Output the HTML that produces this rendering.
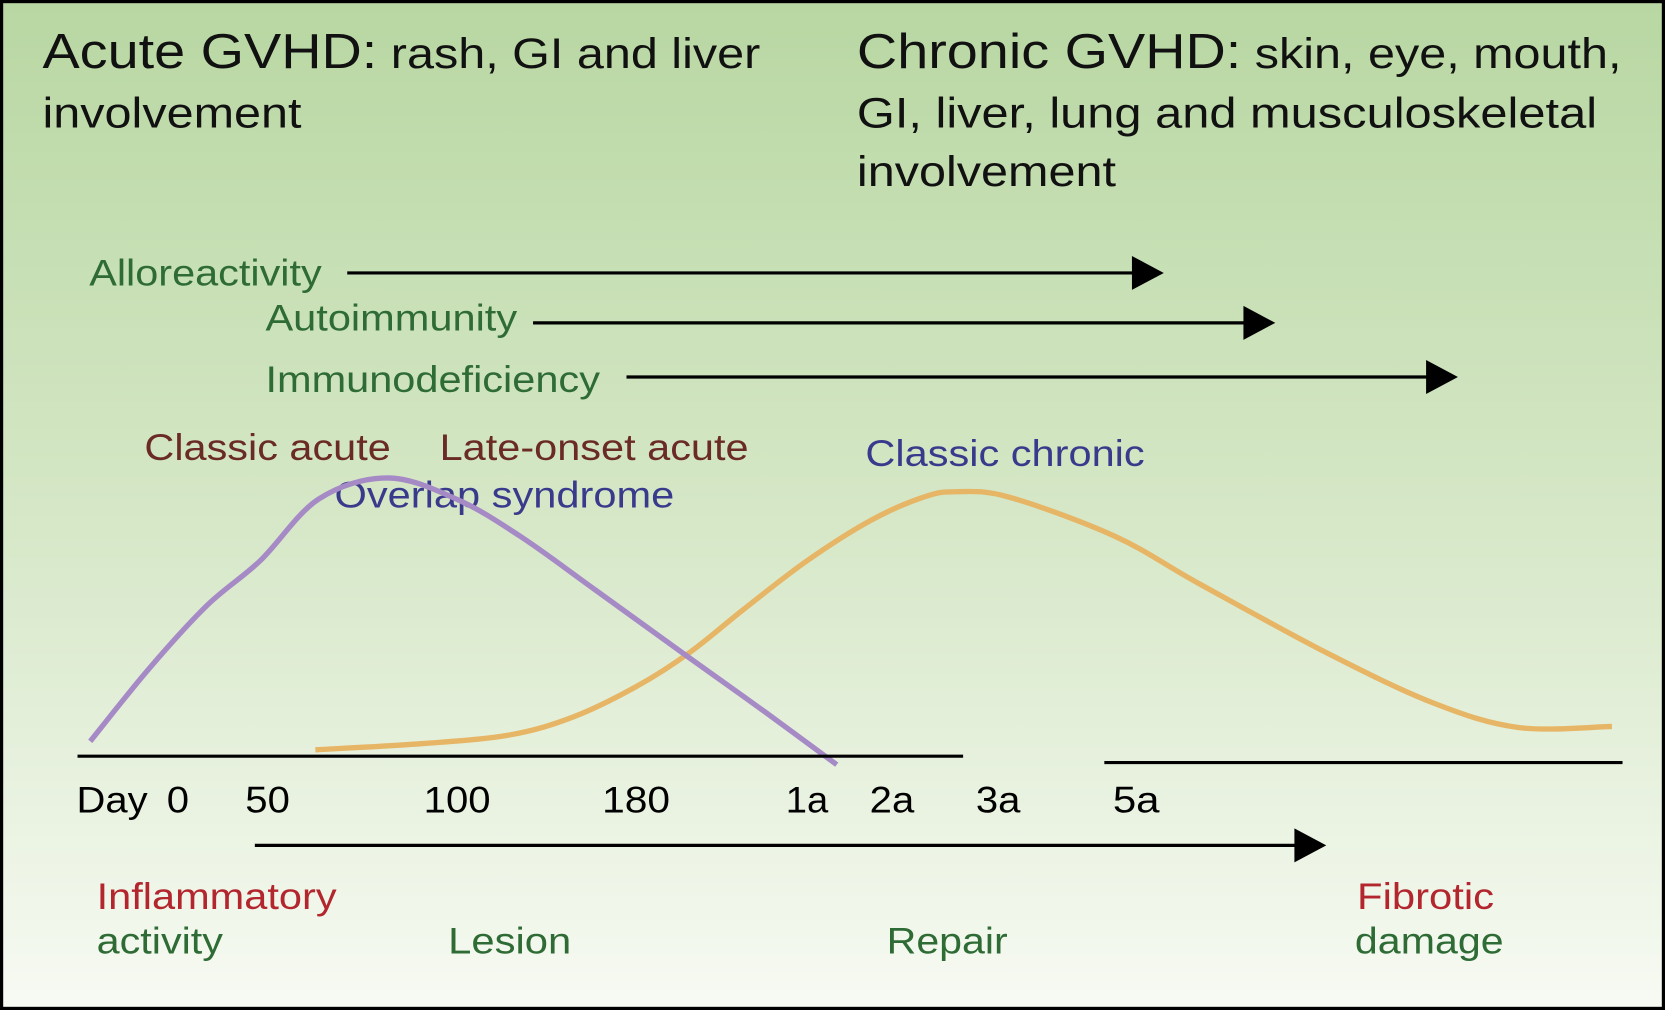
<!DOCTYPE html>
<html><head><meta charset="utf-8">
<style>
html,body{margin:0;padding:0;background:#fff;}
svg{display:block;font-family:"Liberation Sans",sans-serif;}
</style></head>
<body>
<svg id="chart" width="1665" height="1010" viewBox="0 0 1568 951" preserveAspectRatio="none" xmlns="http://www.w3.org/2000/svg">
<defs>
<linearGradient id="bg" x1="0" y1="0" x2="0" y2="1">
<stop offset="0" stop-color="#b8d7a2"/>
<stop offset="0.5" stop-color="#d5e7c6"/>
<stop offset="1" stop-color="#f7faf3"/>
</linearGradient>
</defs>
<rect x="1.5" y="1.5" width="1565" height="948" fill="url(#bg)" stroke="#000" stroke-width="3"/>

<g font-size="40" fill="#111">
<text x="40" y="64" textLength="676" lengthAdjust="spacingAndGlyphs"><tspan font-size="46">Acute GVHD:</tspan> rash, GI and liver</text>
<text x="40" y="120" textLength="244" lengthAdjust="spacingAndGlyphs">involvement</text>
</g>
<g font-size="40" fill="#111">
<text x="807" y="64" textLength="720" lengthAdjust="spacingAndGlyphs"><tspan font-size="46">Chronic GVHD:</tspan> skin, eye, mouth,</text>
<text x="807" y="120" textLength="697" lengthAdjust="spacingAndGlyphs">GI, liver, lung and musculoskeletal</text>
<text x="807" y="175" textLength="244" lengthAdjust="spacingAndGlyphs">involvement</text>
</g>

<g font-size="35" fill="#2e6b35">
<text x="84" y="269" textLength="219" lengthAdjust="spacingAndGlyphs">Alloreactivity</text>
<text x="250" y="311" textLength="237" lengthAdjust="spacingAndGlyphs">Autoimmunity</text>
<text x="250" y="369" textLength="315" lengthAdjust="spacingAndGlyphs">Immunodeficiency</text>
</g>
<g stroke="#000" stroke-width="3">
<line x1="327" y1="257" x2="1070" y2="257"/>
<line x1="502" y1="304" x2="1175" y2="304"/>
<line x1="590" y1="355" x2="1347" y2="355"/>
<line x1="240" y1="796" x2="1223" y2="796"/>
</g>
<g fill="#000">
<polygon points="1066,241 1096,257 1066,273"/>
<polygon points="1171,288 1201,304 1171,320"/>
<polygon points="1343,339 1373,355 1343,371"/>
<polygon points="1219,780 1249,796 1219,812"/>
</g>

<g font-size="35">
<text x="136" y="433" fill="#6a2a26" textLength="232" lengthAdjust="spacingAndGlyphs">Classic acute</text>
<text x="414" y="433" fill="#6a2a26" textLength="291" lengthAdjust="spacingAndGlyphs">Late-onset acute</text>
<text x="315" y="478" fill="#3a3a8c" textLength="320" lengthAdjust="spacingAndGlyphs">Overlap syndrome</text>
<text x="815" y="439" fill="#3a3a8c" textLength="263" lengthAdjust="spacingAndGlyphs">Classic chronic</text>
</g>

<g id="curves"></g>

<g stroke="#000" stroke-width="3">
<line x1="73" y1="712" x2="907" y2="712"/>
<line x1="1040" y1="718" x2="1528" y2="718"/>
</g>
<g font-size="35" fill="#000">
<text x="72" y="765" textLength="67" lengthAdjust="spacingAndGlyphs">Day</text>
<text x="157" y="765" textLength="21" lengthAdjust="spacingAndGlyphs">0</text>
<text x="231" y="765" textLength="42" lengthAdjust="spacingAndGlyphs">50</text>
<text x="399" y="765" textLength="63" lengthAdjust="spacingAndGlyphs">100</text>
<text x="567" y="765" textLength="64" lengthAdjust="spacingAndGlyphs">180</text>
<text x="740" y="765" textLength="40" lengthAdjust="spacingAndGlyphs">1a</text>
<text x="819" y="765" textLength="42" lengthAdjust="spacingAndGlyphs">2a</text>
<text x="919" y="765" textLength="42" lengthAdjust="spacingAndGlyphs">3a</text>
<text x="1048" y="765" textLength="44" lengthAdjust="spacingAndGlyphs">5a</text>
</g>

<g font-size="35">
<text x="91" y="856" fill="#b3262e" textLength="226" lengthAdjust="spacingAndGlyphs">Inflammatory</text>
<text x="91" y="898" fill="#2e6b35" textLength="119" lengthAdjust="spacingAndGlyphs">activity</text>
<text x="422" y="898" fill="#2e6b35" textLength="116" lengthAdjust="spacingAndGlyphs">Lesion</text>
<text x="835" y="898" fill="#2e6b35" textLength="114" lengthAdjust="spacingAndGlyphs">Repair</text>
<text x="1278" y="856" fill="#b3262e" textLength="129" lengthAdjust="spacingAndGlyphs">Fibrotic</text>
<text x="1276" y="898" fill="#2e6b35" textLength="140" lengthAdjust="spacingAndGlyphs">damage</text>
</g>
</svg>
<script>
// Curve data (time units, relative incidence)
const acuteX = [1, 6.5, 12, 17, 22.5, 29, 35.5, 41.5, 48.5, 57.5, 64.5, 71.3];
const acuteY = [5.6, 32.8, 56.8, 73.6, 96.8, 104.8, 96.8, 82.8, 62.8, 36.8, 16.8, -3.2];
const chronicX = [22.2, 32.5, 40.5, 46.5, 52.5, 57.5, 62.5, 68.5, 74.5, 79.5, 82.5, 87.5, 97.5, 105.5, 117.5, 127.5, 135.5, 144.3];
const chronicY = [2.4, 4.8, 8, 14.8, 26.4, 39.2, 55.2, 73.6, 88.8, 97.6, 99.6, 97.6, 82.8, 64.8, 38.8, 20, 10.8, 11.2];

function xScale(v){ return 75 + v * 10; }
function yScale(v){ return 712 - v * 2.5; }

function smoothPath(xs, ys){
  const p = xs.map((x,i)=>[xScale(x), yScale(ys[i])]);
  let d = 'M' + p[0][0] + ',' + p[0][1];
  for (let i = 0; i < p.length - 1; i++){
    const p0 = p[i-1] || p[i], p1 = p[i], p2 = p[i+1], p3 = p[i+2] || p2;
    const c1 = [p1[0] + (p2[0]-p0[0])/6, p1[1] + (p2[1]-p0[1])/6];
    const c2 = [p2[0] - (p3[0]-p1[0])/6, p2[1] - (p3[1]-p1[1])/6];
    d += ' C' + c1.join(',') + ' ' + c2.join(',') + ' ' + p2.join(',');
  }
  return d;
}
const ns = 'http://www.w3.org/2000/svg';
const g = document.getElementById('curves');
const chronic = document.createElementNS(ns, 'path');
chronic.setAttribute('d', smoothPath(chronicX, chronicY));
chronic.setAttribute('fill', 'none');
chronic.setAttribute('stroke', '#e6b565');
chronic.setAttribute('stroke-width', '5');


g.appendChild(chronic);
const acute = document.createElementNS(ns, 'path');
acute.setAttribute('d', smoothPath(acuteX, acuteY));
acute.setAttribute('fill', 'none');
acute.setAttribute('stroke', '#a58ac6');
acute.setAttribute('stroke-width', '5');


g.appendChild(acute);
</script>
</body></html>
